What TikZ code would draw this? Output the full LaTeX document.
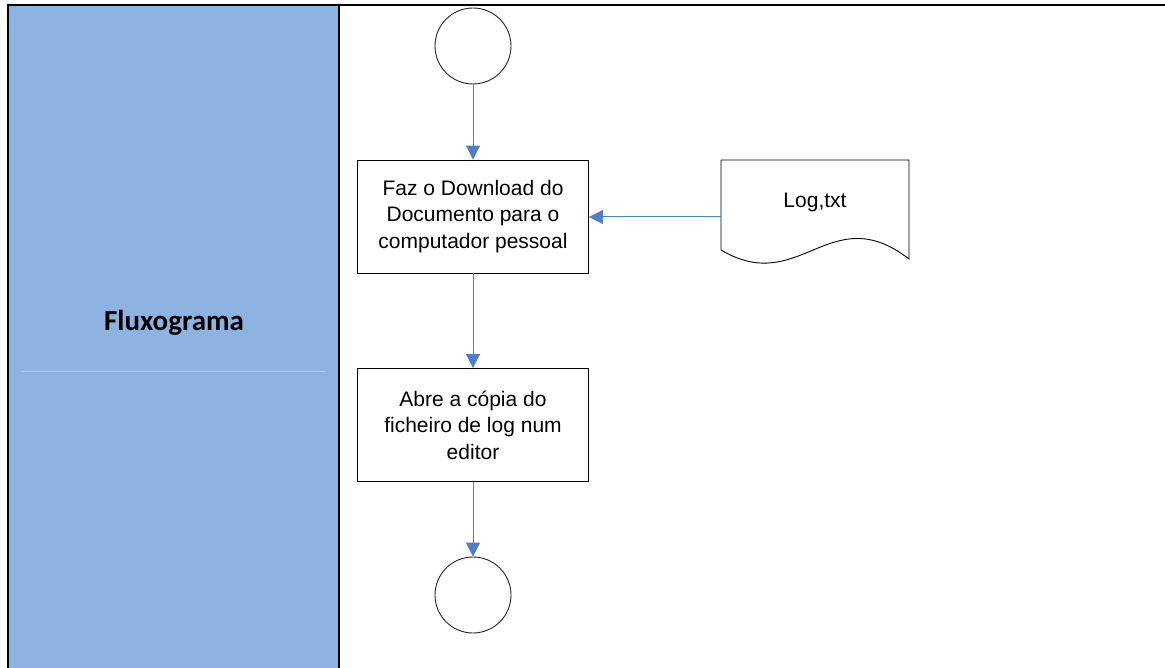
\documentclass[tikz,border=0pt]{standalone}
\usepackage{fontspec}
\setmainfont{Liberation Sans}
\newfontfamily\calib{Carlito}
\usetikzlibrary{arrows.meta}
\definecolor{lanefill}{HTML}{8DB3E2}
\definecolor{laneline}{HTML}{A9C5EC}
\definecolor{flowblue}{HTML}{4F7EC8}
\tikzset{
  procbox/.style={draw=black, line width=0.9pt, minimum width=231pt, minimum height=113pt, align=center, inner sep=0pt, font=\fontsize{21}{26.5}\selectfont},
  termcirc/.style={draw=black!85, line width=0.9pt, circle, minimum size=76pt, inner sep=0pt},
  flow/.style={draw=flowblue, line width=1pt, -{Triangle[width=14pt,length=14pt]}},
  frame/.style={draw=black, line width=2.5pt}
}
\begin{document}
\begin{tikzpicture}[x=1pt,y=-1pt]
\useasboundingbox (0,0) rectangle (1165,668);
\fill[lanefill] (8,5) rectangle (339,668);
\draw[laneline, line width=0.8pt] (22,371) -- (325,371);
\draw[frame] (8,668) -- (8,5) -- (1165,5);
\draw[frame] (339,5) -- (339,668);
\node[font=\calib\bfseries\fontsize{29}{34}\selectfont] (lane) at (174,323) {Fluxograma};

\node[termcirc] (start) at (473,46) {};
\node[procbox] (dl) at (473,216.5) {Faz o Download do\\Documento para o\\computador pessoal};
\node[procbox] (ab) at (473,425) {Abre a cópia do\\ficheiro de log num\\editor};
\node[termcirc] (end) at (473,595) {};

\draw[black, line width=0.9pt] (721,250) -- (721,160) -- (909,160) -- (909,259)
  .. controls (830,198) and (800,297) .. (721,250);
\coordinate (docleft) at (721,217);
\node[font=\fontsize{21}{26.5}\selectfont] (log) at (815,202) {Log,txt};

\draw[flow] (start) -- (dl);
\draw[flow] (dl) -- (ab);
\draw[flow] (ab) -- (end);
\draw[flow] (docleft) -- (dl.east |- docleft);
\end{tikzpicture}
\end{document}
